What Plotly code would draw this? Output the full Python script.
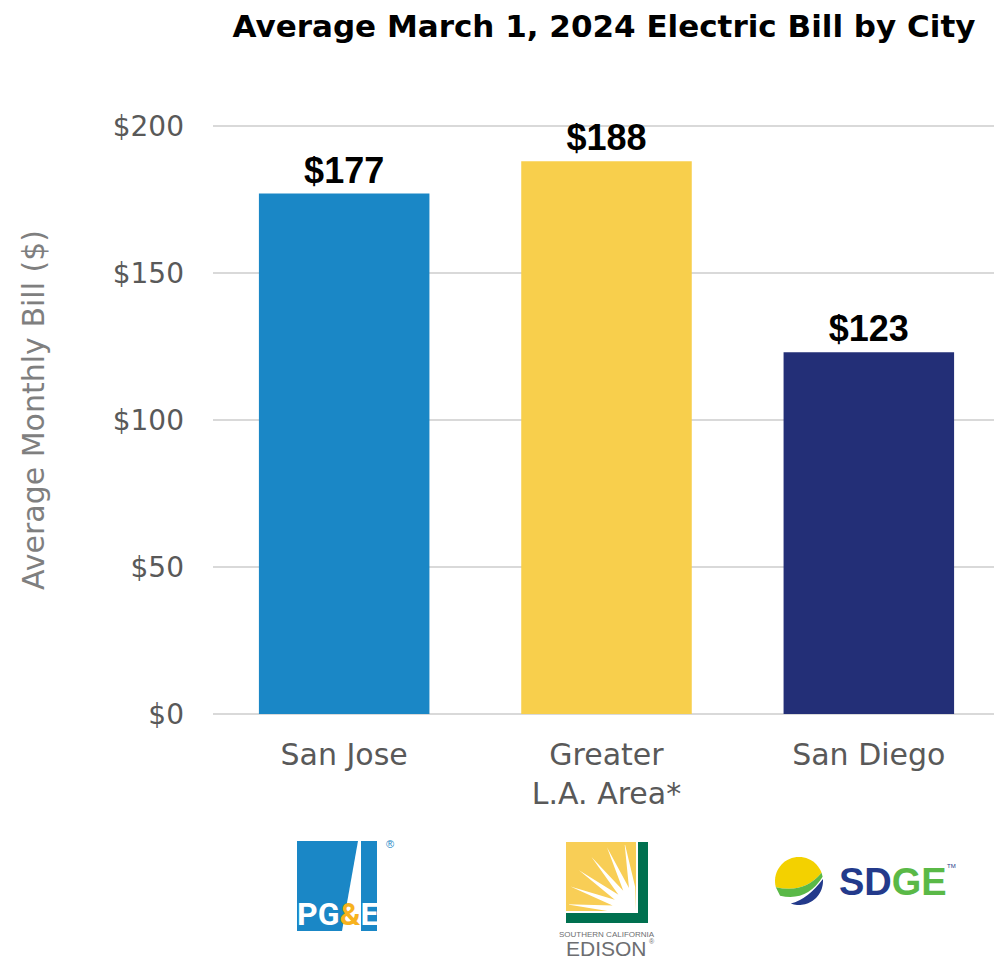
import math
import plotly.graph_objects as go

cities = ["San Jose", "Greater<br>L.A. Area*", "San Diego"]
bills = [177, 188, 123]
bar_colors = ["#1A87C6", "#F8CF4C", "#232F77"]
labels = ["$" + str(v) for v in bills]
y_ticks = [0, 50, 100, 150, 200]
y_ticktext = ["$" + str(v) for v in y_ticks]

fig = go.Figure(go.Bar(
    x=cities,
    y=bills,
    marker=dict(color=bar_colors, line=dict(width=0)),
    text=labels,
    textposition="outside",
    cliponaxis=False,
    textfont=dict(family="Liberation Sans, Arial, sans-serif", size=36, color="black", weight="bold"),
))

# the page body adds 8px, so positions are worked out in the reference's pixels minus OFF
OFF = 8
W, H = 1002, 960
L, R, T, B = 213, 1000, 123, 714   # plot area in reference pixels (top = 201)


def px(x):
    return (x - L) / (R - L)


def py(y):
    return (B - y) / (B - T)


def pt(x, y):
    return "%.5f,%.5f" % (px(x), py(y))


def shape_path(path, color):
    fig.add_shape(type="path", path=path, xref="paper", yref="paper",
                  fillcolor=color, line=dict(width=0), layer="above")


def poly(points, color):
    shape_path("M" + " L".join(pt(x, y) for x, y in points) + " Z", color)


def rect(x0, y0, x1, y1, color):
    fig.add_shape(type="rect", xref="paper", yref="paper",
                  x0=px(x0), x1=px(x1), y0=py(y1), y1=py(y0),
                  fillcolor=color, line=dict(width=0))


def label(x, y, text, size, color, family="Liberation Sans, Arial", bold=False, xanchor="center", angle=0):
    fig.add_annotation(x=px(x), y=py(y), xref="paper", yref="paper", text=text,
                       showarrow=False, xanchor=xanchor, yanchor="middle", borderpad=0,
                       textangle=angle,
                       font=dict(family=family, size=size, color=color,
                                 weight="bold" if bold else "normal"))


# y axis title, placed by hand so it sits where the reference has it
label(33, 410, "Average Monthly Bill ($)", 30, "#7F7F7F", family="DejaVu Sans, sans-serif", angle=-90)

# --- PG&E logo ---
rect(297, 841, 377, 931, "#1A87C6")
poly([(358, 841), (361, 841), (361, 931), (342, 931)], "white")
label(337, 914, "PG<span style='color:#F7B21E'>&</span>E", 32, "white",
      family="Roboto, Liberation Sans", bold=True)
label(390, 844, "®", 11, "#1A87C6")

# --- Edison logo ---
rect(566, 842, 636, 911, "#F8CE56")
rect(638, 842, 648, 923, "#00704F")
rect(566, 913, 648, 923, "#00704F")
cx, cy = 636, 911
burst = []
n = 6
for i in range(2 * n + 1):
    ang = math.radians(92 + i * (90.0 / (2 * n)))
    r = 70 if i % 2 == 1 else 24
    burst.append((cx + r * math.cos(ang), cy - r * math.sin(ang)))
burst.append((cx, cy))
poly(burst, "white")
rect(566, 842, 636, 845, "#F8CE56")
rect(566, 842, 569, 911, "#F8CE56")
label(607, 934, "SOUTHERN CALIFORNIA", 8, "#6D6E71")
label(606, 948, "EDISON", 21, "#6D6E71")
label(648, 941, "®", 7, "#6D6E71", xanchor="left")

# --- SDGE logo ---
ccx, ccy, cr = 799, 881, 24


def cpt(a):
    a = math.radians(a)
    return (ccx + cr * math.cos(a), ccy - cr * math.sin(a))


def arc_path(a0, a1, steps=30):
    pts = [cpt(a0 + (a1 - a0) * k / steps) for k in range(steps + 1)]
    return "M" + " L".join(pt(x, y) for x, y in pts)


# yellow cap: top arc from right to left, lower edge a shallow smile
shape_path(arc_path(20, 195) + " Q" + pt(804, 894) + " " + pt(*cpt(20)) + " Z", "#F3D100")
# green swoosh
shape_path("M" + pt(*cpt(195)) + " Q" + pt(804, 894) + " " + pt(*cpt(20))
           + " L" + pt(*cpt(10)) + " Q" + pt(807, 902) + " " + pt(*cpt(218)) + " Z", "#5AB947")
# navy crescent
shape_path(arc_path(250, 365) + " Q" + pt(808, 899) + " " + pt(*cpt(250)) + " Z", "#233A8B")
label(838, 882, "<span style='color:#233A8B'>SD</span><span style='color:#5AB947'>GE</span>",
      38, "#233A8B", family="Liberation Sans, Arial", bold=True, xanchor="left")
label(946, 866, "TM", 6, "#233A8B", xanchor="left")

fig.update_layout(
    width=W,
    height=H,
    margin=dict(l=L - OFF, r=W - (R - OFF), t=T - OFF, b=H - (B - OFF)),
    paper_bgcolor="white",
    plot_bgcolor="white",
    bargap=0.35,
    showlegend=False,
    title=dict(
        text="Average March 1, 2024 Electric Bill by City",
        x=(604 - OFF) / W, xanchor="center", y=1 - (26 - OFF) / H, yanchor="middle",
        font=dict(family="DejaVu Sans, sans-serif", size=31, color="black", weight="bold"),
    ),
    font=dict(family="DejaVu Sans, sans-serif", color="#595959"),
    xaxis=dict(
        tickfont=dict(size=30, color="#595959"),
        showgrid=False,
        zeroline=False,
        showline=False,
        ticklabelstandoff=20,
    ),
    yaxis=dict(
        range=[0, 201],
        tickvals=y_ticks,
        ticktext=y_ticktext,
        tickfont=dict(size=28, color="#595959"),
        showgrid=True,
        gridcolor="#D9D9D9",
        gridwidth=1.5,
        zeroline=True,
        zerolinecolor="#D9D9D9",
        zerolinewidth=1.5,
        ticklabelstandoff=28,
    ),
)

fig.write_html("out.html")
